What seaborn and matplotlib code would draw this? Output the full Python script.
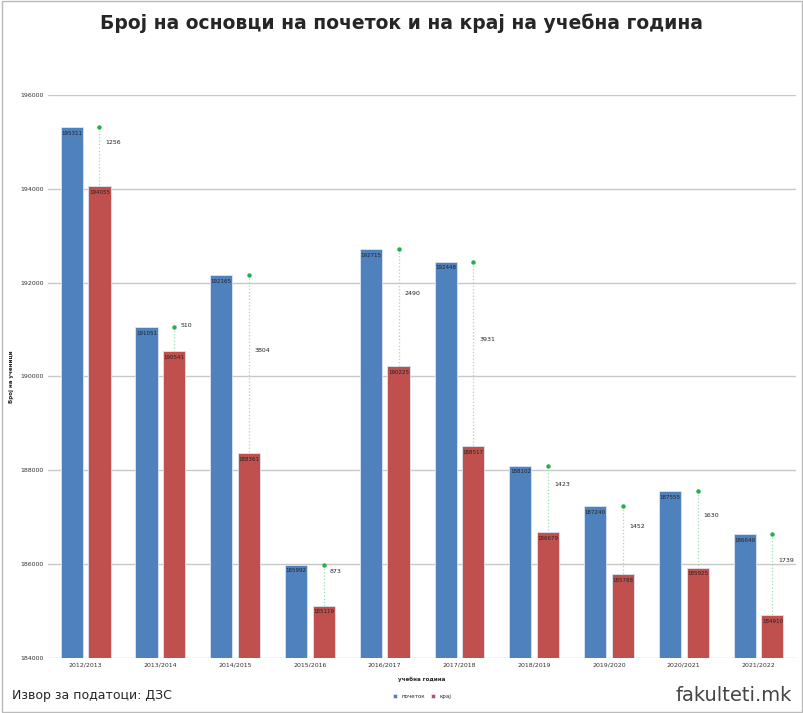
import pandas as pd
import numpy as np
import matplotlib.pyplot as plt
import seaborn as sns

years = ['2012/2013', '2013/2014', '2014/2015', '2015/2016', '2016/2017',
         '2017/2018', '2018/2019', '2019/2020', '2020/2021', '2021/2022']
start = [195311, 191051, 192165, 185992, 192715, 192448, 188102, 187240, 187555, 186649]
end = [194055, 190541, 188361, 185119, 190225, 188517, 186679, 185788, 185925, 184910]
diff = [1256, 510, 3804, 873, 2490, 3931, 1423, 1452, 1630, 1739]

sns.set_theme(style="white")
plt.rcParams['font.family'] = ['DejaVu Sans']

df = pd.DataFrame({'year': years * 2,
                   'value': start + end,
                   'kind': ['почеток'] * len(years) + ['крај'] * len(years)})

W = 0.74
fig = plt.figure(figsize=(8.04, 7.13), dpi=100)
ax = fig.add_axes([0.06, 0.077, 0.93, 0.79])
sns.barplot(data=df, x='year', y='value', hue='kind', palette=['#4f81bd', '#c0504d'],
            saturation=1, width=W, gap=0.2, ax=ax, edgecolor='#dce6f2', linewidth=0.6, zorder=3)
ax.set_xlim(-0.5, len(years) - 0.5)
ax.set_ylim(184000, 196000)
ax.set_yticks(range(184000, 196001, 2000))
ax.yaxis.grid(True, color='#c8c8c8', linewidth=1, zorder=0)
ax.tick_params(axis='both', labelsize=4.5, length=0, colors='#333333')
for s in ax.spines.values():
    s.set_visible(False)
ax.set_xlabel('учебна година', fontsize=4, fontweight='bold', labelpad=6)
ax.set_ylabel('Број на ученици', fontsize=4, fontweight='bold')

bw = W / 2
for i in range(len(years)):
    xb, xr = i - bw / 2, i + bw / 2
    ax.text(xb, start[i] - 80, str(start[i]), ha='center', va='top', fontsize=4, color='#222222', zorder=5)
    ax.text(xr, end[i] - 80, str(end[i]), ha='center', va='top', fontsize=4, color='#222222', zorder=5)
    ax.plot([xr, xr], [start[i], end[i]], color='#9ddfb0', linestyle=':', linewidth=0.9, zorder=4)
    ax.plot(xr, start[i], 'o', color='#22b14c', markersize=2.2, zorder=5)
    ax.text(xr + 0.08, (start[i] + end[i]) / 2 + 300, str(diff[i]), ha='left', va='center',
            fontsize=4.5, color='#222222', zorder=5)

ax.legend(loc='upper center', bbox_to_anchor=(0.5, -0.055), ncol=2, frameon=False,
          fontsize=4, handlelength=0.6, handleheight=0.6, columnspacing=1.2)

fig.text(0.5, 0.968, 'Број на основци на почеток и на крај на учебна година',
         ha='center', va='center', fontsize=13.5, fontweight='bold')
fig.text(0.015, 0.025, 'Извор за податоци: ДЗС', fontsize=9, va='center')
fig.text(0.985, 0.025, 'fakulteti.mk', fontsize=14, ha='right', va='center', color='#444444')
fig.patches.append(plt.Rectangle((0.002, 0.002), 0.996, 0.996, transform=fig.transFigure,
                                 fill=False, edgecolor='#bbbbbb', linewidth=1))
fig.savefig('out.png', dpi=100)
